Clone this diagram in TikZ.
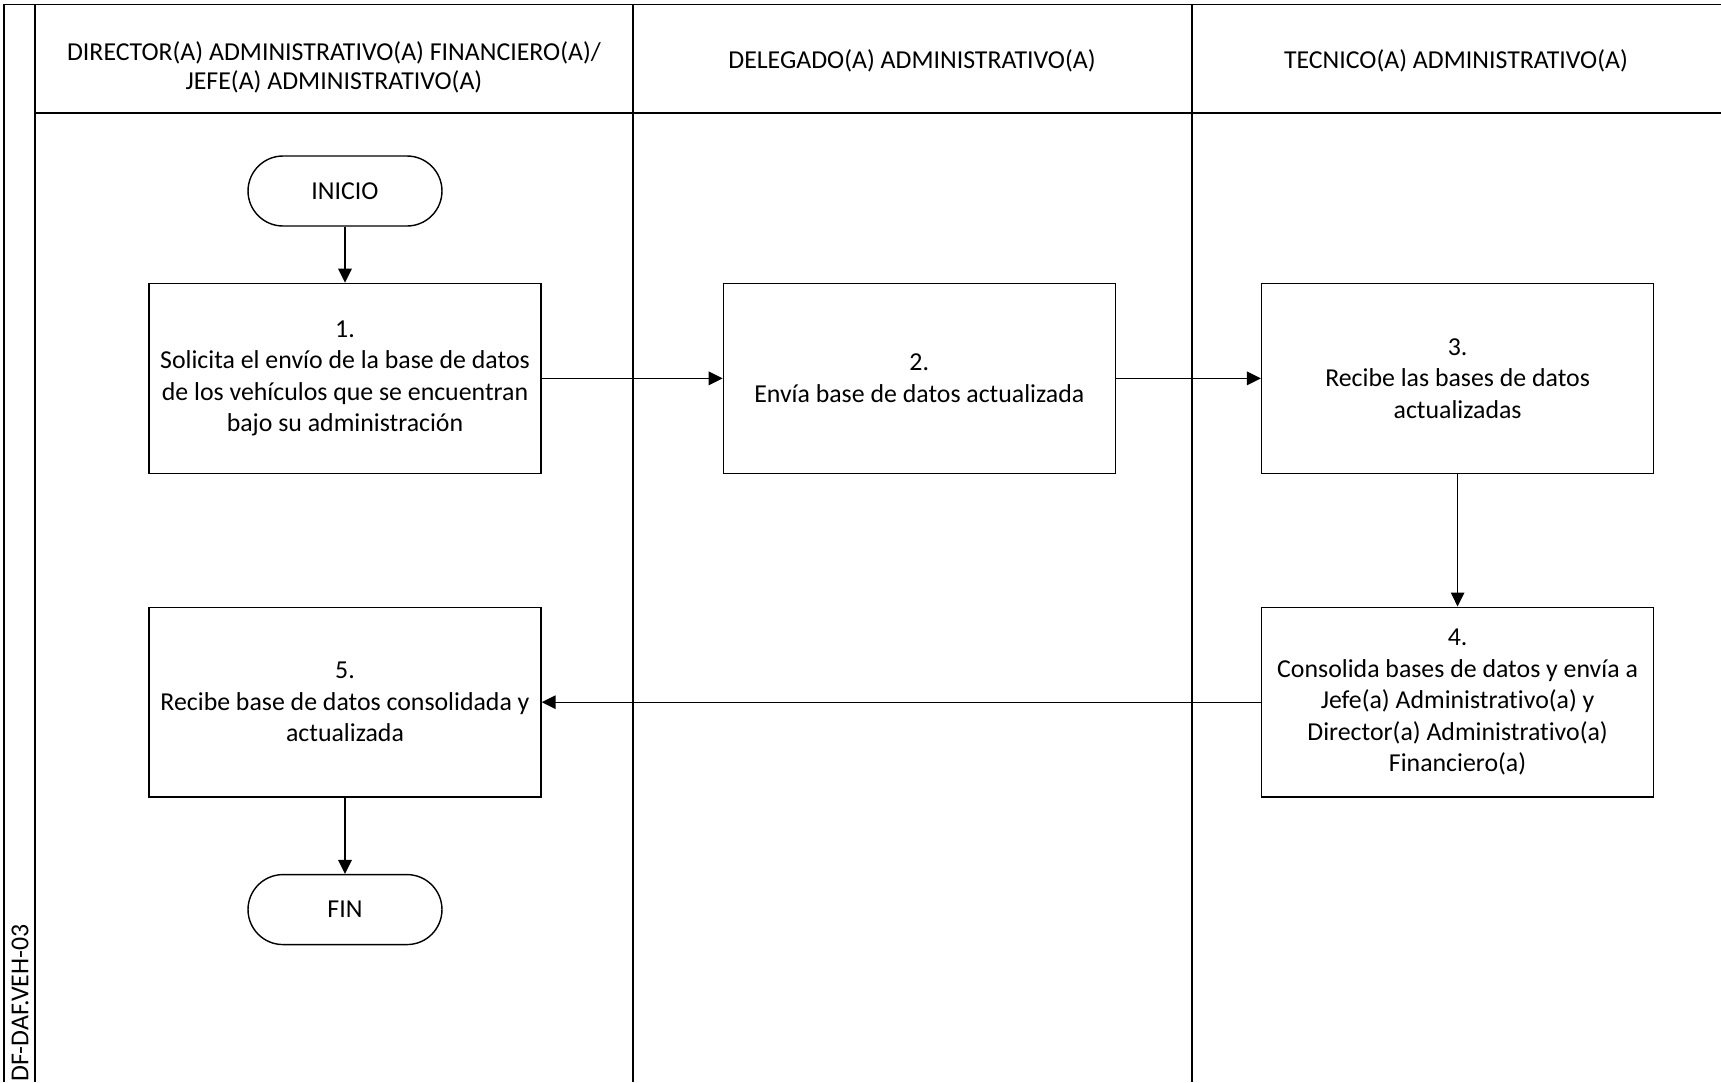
\documentclass[tikz,border=0pt]{standalone}
\usepackage{fontspec}
\setmainfont{Carlito}[Ligatures=NoCommon]
\usetikzlibrary{positioning}
\usetikzlibrary{arrows.meta}

\begin{document}
\begin{tikzpicture}[x=0.02cm, y=-0.02cm,
        lane/.style={line width=1pt},
        titulo/.style={align=center, font=\fontsize{14.7}{16.5}\selectfont},
        paso/.style={draw, line width=0.8pt, align=center,
            minimum width=7.84cm, minimum height=3.8cm,
            font=\fontsize{14.7}{17.9}\selectfont},
        term/.style={draw, line width=0.8pt, rounded corners=0.7cm,
            minimum width=3.88cm, minimum height=1.4cm,
            font=\fontsize{14.7}{17.9}\selectfont},
        flecha/.style={line width=0.8pt, -{Triangle[length=0.28cm, width=0.27cm]}}]

    \useasboundingbox (0,0) rectangle (1721,1082);

    \def\d{1.12cm}

    % swimlanes
    \begin{scope}[lane]
        \draw (4,1082) -- (4,4.5) -- (1721,4.5);
        \draw (35,4.5) -- (35,1082);
        \draw (35,113) -- (1721,113);
        \draw (633,4.5) -- (633,1082);
        \draw (1192,4.5) -- (1192,1082);
    \end{scope}

    \node[titulo] (dir) at (334,67)
    {DIRECTOR(A) ADMINISTRATIVO(A) FINANCIERO(A)/\\JEFE(A) ADMINISTRATIVO(A)};
    \node[titulo] (del) at (912,61)
    {DELEGADO(A) ADMINISTRATIVO(A)};
    \node[titulo] (tec) at (1456,61)
    {TECNICO(A) ADMINISTRATIVO(A)};
    \node[titulo, rotate=90] (cod) at (20,1003)
    {DF-DAF.VEH-03};

    % pasos
    \node[term] (ini) at (345,191)
    {INICIO};
    \node[paso, below=\d of ini] (p1)
    {1.\\Solicita el envío de la base de datos\\de los vehículos que se encuentran\\bajo su administración};
    \node[paso, right=3.62cm of p1] (p2)
    {2.\\Envía base de datos actualizada};
    \node[paso, right=2.9cm of p2] (p3)
    {3.\\Recibe las bases de datos\\actualizadas};
    \node[paso, below=2.65cm of p3] (p4)
    {4.\\Consolida bases de datos y envía a\\Jefe(a) Administrativo(a) y\\Director(a) Administrativo(a)\\Financiero(a)};
    \node[paso] (p5) at (p4 -| p1)
    {5.\\Recibe base de datos consolidada y\\actualizada};
    \node[term, below=1.52cm of p5] (fin)
    {FIN};

    \begin{scope}[flecha]
        \draw (ini) -- (p1);
        \draw (p1) -- (p2);
        \draw (p2) -- (p3);
        \draw (p3) -- (p4);
        \draw (p4) -- (p5);
        \draw (p5) -- (fin);
    \end{scope}

\end{tikzpicture}
\end{document}
